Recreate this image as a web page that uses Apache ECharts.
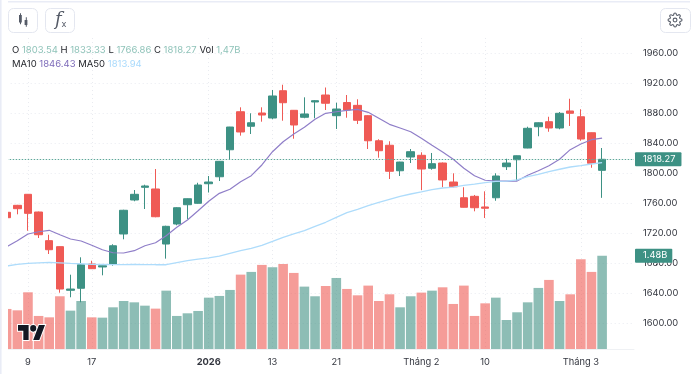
<!DOCTYPE html>
<html><head><meta charset="utf-8">
<style>html,body{margin:0;padding:0;background:#fff}#c{width:700px;height:374px}</style>
<script src="https://cdn.jsdelivr.net/npm/echarts@6/dist/echarts.min.js"></script>
</head><body><div id="c"></div>
<script>
const categories = ['','','9','','','','','','17','','','','','','','','','','','2026','','','','','','13','','','','','','21','','','','','','','','Tháng 2','','','','','','10','','','','','','','','','Tháng 3','','','','',''];
const opens = [1747.6,1756.9,1771.6,1748,1709.8,1701.8,1643.6,1646.3,1678.7,1674.7,1678.3,1718.7,1764,1780.9,1778.7,1705.3,1732,1757.7,1759.6,1785.7,1795,1831,1881.7,1862.3,1880,1873.3,1909.7,1883.6,1874.3,1894.7,1904,1876.4,1894,1890.2,1876.4,1843,1837,1803,1821.3,1823.6,1806.3,1813.3,1788,1767,1768.9,1754.7,1767,1808.4,1817.7,1833.3,1861.7,1868.4,1860,1882.7,1875,1853.7,1803.54];
const highs = [1748,1757.5,1772,1748.5,1717.7,1702,1664.4,1687.6,1683,1677,1705,1751,1777.3,1784.4,1805.3,1729.7,1754.3,1766,1787,1796,1816,1861.5,1887.6,1879.6,1887.6,1910.7,1917.7,1884,1900.9,1897.3,1914,1893.7,1904,1898.3,1877,1845,1842.3,1815,1832,1827.6,1826.7,1814,1799.6,1781,1770.7,1775.6,1799.6,1819,1823.3,1861.7,1867.5,1875,1881.3,1899,1885,1854,1833.33];
const lows = [1740,1744.9,1723,1713.3,1692,1640.4,1634.3,1627.6,1672,1663.6,1676.4,1711.6,1762.3,1752,1741,1685.8,1730.3,1738.7,1759,1774,1789.3,1818.3,1849.8,1852,1868.4,1871.6,1869.7,1845.7,1873,1873,1884,1858.7,1873.7,1865.3,1832,1820.4,1792,1796,1813.3,1777.3,1804.4,1781,1781,1754,1748.9,1740,1763,1804,1789.7,1833,1849,1855,1858.3,1862.7,1843,1807,1766.86];
const closes = [1740.4,1752.4,1746.2,1717.7,1697.7,1645.3,1645.3,1677.7,1672.4,1676.4,1703,1750.3,1771.6,1782.7,1741.7,1728.9,1753.7,1765.7,1784,1788,1815.6,1861.3,1854.7,1867,1877.3,1902.7,1893.7,1864,1878.7,1896.4,1893,1885.3,1884,1870.3,1843,1829.7,1802.3,1814.6,1828.4,1805.3,1812.4,1790.7,1781.7,1754.3,1753.7,1753,1796,1813.3,1823,1859.6,1867,1860,1879.6,1879.6,1845.3,1813,1818.27];
const volumes = [0.635,0.613,0.899,0.524,0.502,0.836,0.608,0.761,0.502,0.497,0.661,0.761,0.74,0.687,0.64,0.925,0.524,0.566,0.603,0.814,0.841,0.936,1.179,1.222,1.333,1.296,1.348,1.206,0.989,0.836,0.999,1.126,0.952,0.851,1.005,0.761,0.867,0.661,0.836,0.894,0.925,0.978,0.714,1.005,0.524,0.724,0.814,0.46,0.582,0.74,0.968,1.095,0.761,0.867,1.422,1.222,1.48];
const ma10 = [1701.7,1709.7,1718.7,1721.7,1723.6,1717.7,1712,1709.3,1703.6,1697.7,1693.7,1693.3,1696.4,1703,1707,1716.4,1727.6,1737.3,1749.7,1762.3,1772.9,1778.3,1788.4,1796.4,1810.7,1828.4,1841.7,1852,1860.9,1871.6,1879.6,1881.7,1883.6,1884.9,1880.9,1872.9,1864.9,1860,1855,1846.3,1836.9,1828,1818.3,1806.3,1796.4,1790.3,1789.3,1789.3,1789.3,1796.9,1803.1,1809.7,1818.3,1831.1,1838.7,1844.4,1846.43];
const ma50 = [1676,1678.3,1679.6,1680.3,1680.9,1680.3,1679.6,1679,1678.3,1678,1677.7,1677.9,1678,1677.9,1677.7,1677.7,1680.4,1683.1,1685.3,1686.7,1689.3,1692.9,1696.4,1699.6,1703.6,1708.9,1714.3,1718.7,1723.1,1728.9,1734.3,1740.9,1747.1,1751.6,1756.4,1760.9,1764.9,1768.9,1772,1774.7,1777.7,1780,1781.3,1783.6,1785.3,1787.3,1788.7,1789.3,1790.7,1795.1,1798.3,1801.7,1805,1808,1809.7,1812,1813.94];
const lastPriceLabel = '1818.27';
const lastVolumeLabel = '1.48B';
const headerRow1 = [['O','1803.54'],['H','1833.33'],['L','1766.86'],['C','1818.27'],['Vol','1,47B']];
const headerRow2 = [['MA10','1846.43','a'],['MA50','1813.94','b']];

const UP='#3d9184', DOWN='#ef5a55', VUP='rgba(65,145,132,0.6)', VDOWN='rgba(238,90,83,0.6)';
const FONT='Inter', FS=9.3;
const GRID='#e9ebf0', TXT='#33363f';
const L=6.7, W=627.3;

const tvPath='M14 22H7V11H0V4h14v18zM28 22h-8l7.5-18h8L28 22zM24 8a4 4 0 1 1-8 0 4 4 0 0 1 8 0z';
const gearPath='M12 15a3 3 0 1 0 0-6 3 3 0 0 0 0 6zM19.4 15a1.65 1.65 0 0 0 .33 1.82l.06.06a2 2 0 0 1 0 2.83 2 2 0 0 1-2.83 0l-.06-.06a1.65 1.65 0 0 0-1.82-.33 1.65 1.65 0 0 0-1 1.51V21a2 2 0 0 1-2 2 2 2 0 0 1-2-2v-.09A1.65 1.65 0 0 0 9 19.4a1.65 1.65 0 0 0-1.82.33l-.06.06a2 2 0 0 1-2.83 0 2 2 0 0 1 0-2.83l.06-.06a1.65 1.65 0 0 0 .33-1.82 1.65 1.65 0 0 0-1.51-1H3a2 2 0 0 1-2-2 2 2 0 0 1 2-2h.09A1.65 1.65 0 0 0 4.6 9a1.65 1.65 0 0 0-.33-1.82l-.06-.06a2 2 0 0 1 0-2.83 2 2 0 0 1 2.83 0l.06.06a1.65 1.65 0 0 0 1.82.33H9a1.65 1.65 0 0 0 1-1.51V3a2 2 0 0 1 2-2 2 2 0 0 1 2 2v.09a1.65 1.65 0 0 0 1 1.51 1.65 1.65 0 0 0 1.82-.33l.06-.06a2 2 0 0 1 2.83 0 2 2 0 0 1 0 2.83l-.06.06a1.65 1.65 0 0 0-.33 1.82V9a1.65 1.65 0 0 0 1.51 1H21a2 2 0 0 1 2 2 2 2 0 0 1-2 2h-.09a1.65 1.65 0 0 0-1.51 1z';
echarts.graphic.registerShape('tvlogo',echarts.graphic.extendPath(tvPath,{}));
echarts.graphic.registerShape('gear',echarts.graphic.extendPath(gearPath,{}));

const chart=echarts.init(document.getElementById('c'),null,{renderer:'canvas'});
const row=(r)=>r.map(p=>`{k|${p[0]} }{${p[2]||'v'}|${p[1]} }`).join('');
const btn=(x,y,w,h)=>({type:'rect',shape:{x:x+.5,y:y+.5,width:w,height:h,r:5},style:{fill:'#fff',stroke:'#e4e7f0',lineWidth:1},z:20,silent:true});
const box=(x,y,w,h,c)=>({type:'rect',shape:{x,y,width:w,height:h},style:{fill:c},z:20,silent:true});
const rt=(c)=>({color:c,fontSize:9.5,fontFamily:FONT,fontWeight:'normal'});
const richH={k:rt('#26282e'),v:rt('#8fc3b9'),a:rt('#7d6bb9'),b:rt('#a9dafc')};

chart.setOption({
  animation:false,
  backgroundColor:'#fff',
  textStyle:{fontFamily:FONT},
  title:[
    {left:12,top:45,padding:0,text:row(headerRow1),textStyle:{rich:richH}},
    {left:12,top:59.5,padding:0,text:row(headerRow2),textStyle:{rich:richH}}
  ],
  grid:[
    {left:L,width:W,top:38,height:285},
    {left:L,width:W,top:38,height:311}
  ],
  xAxis:[
    {type:'category',gridIndex:0,data:categories,boundaryGap:false,show:false},
    {type:'category',gridIndex:1,data:categories,boundaryGap:false,
     axisLine:{show:true,lineStyle:{color:'#eff1f4'}},axisTick:{show:false},
     axisLabel:{interval:(i)=>categories[i]!=='',margin:9,fontSize:FS,color:TXT,fontFamily:FONT,
       formatter:v=>v==='2026'?`{b|${v}}`:v,rich:{b:{fontWeight:'bold',fontSize:FS,color:TXT,fontFamily:FONT}}},
     splitLine:{show:true,interval:(i)=>categories[i]!=='',lineStyle:{color:GRID,type:[1,3]}}}
  ],
  yAxis:[
    {type:'value',gridIndex:0,position:'right',min:1600,max:1980,interval:40,
     axisLine:{show:false},axisTick:{show:false},
     axisLabel:{showMaxLabel:false,margin:9,fontSize:FS,color:TXT,fontFamily:FONT,padding:[2,0,0,0],formatter:v=>v.toFixed(2)},
     splitLine:{show:true,showMaxLine:false,lineStyle:{color:GRID,type:[1,3]}}},
    {type:'value',gridIndex:1,position:'right',min:0,max:4.93,show:false,splitLine:{show:false}}
  ],
  series:[
    {name:'Vol',type:'bar',xAxisIndex:1,yAxisIndex:1,barWidth:9.6,
     data:volumes.map((v,i)=>({value:v,itemStyle:{color:closes[i]>=opens[i]?VUP:VDOWN}})),
     markLine:{silent:true,symbol:'none',animation:false,lineStyle:{color:'rgba(0,0,0,0)'},
       data:[{yAxis:volumes[volumes.length-1]}],
       label:{position:'end',distance:1,formatter:lastVolumeLabel,color:'#fff',fontSize:FS,fontFamily:FONT,
         backgroundColor:UP,padding:[3,5,2,8],borderRadius:1}}},
    {name:'Price',type:'candlestick',xAxisIndex:0,yAxisIndex:0,barWidth:8,
     data:opens.map((o,i)=>[o,closes[i],lows[i],highs[i]]),
     itemStyle:{color:UP,color0:DOWN,borderColor:UP,borderColor0:DOWN,borderWidth:1},
     markLine:{silent:true,symbol:'none',animation:false,
       lineStyle:{color:'#5fa89a',type:[1.5,1.5],width:1},
       data:[{yAxis:closes[closes.length-1]}],
       label:{position:'end',distance:1,formatter:lastPriceLabel,color:'#fff',fontSize:FS,fontFamily:FONT,
         backgroundColor:UP,padding:[3,6,2,8],borderRadius:1}}},
    {name:'MA10',type:'line',xAxisIndex:0,yAxisIndex:0,data:ma10,symbol:'none',lineStyle:{color:'#8f7ec8',width:1.2}},
    {name:'MA50',type:'line',xAxisIndex:0,yAxisIndex:0,data:ma50,symbol:'none',lineStyle:{color:'#aedcfb',width:1.3}}
  ],
  graphic:[
    box(2,36,6,320,'#fff'),
    box(0,0,1.6,374,'#e9ecf6'),
    box(8,1,682,1.6,'#e9ecf6'),
    btn(8,8,29,24),btn(45,8,29,24),btn(660,8,30,24),
    box(20,13.3,1,11,'#555b67'),box(19,15,2.8,7.5,'#555b67'),
    box(25.8,17.3,1,9.5,'#555b67'),box(24.6,20,2.8,5,'#555b67'),
    {type:'text',z:21,silent:true,style:{x:55,y:11,text:'f',font:'italic 300 18px "DejaVu Serif", serif',fill:'#555b67'}},
    {type:'text',z:21,silent:true,style:{x:61.5,y:20,text:'x',font:'9px Inter',fill:'#555b67'}},
    {type:'gear',z:21,silent:true,x:667.4,y:12.4,scaleX:.636,scaleY:.636,style:{fill:'none',stroke:'#555b67',lineWidth:1.7}},
    {type:'tvlogo',z:21,silent:true,x:18,y:321.7,scaleX:.76,scaleY:.83,style:{fill:'#131722',stroke:'#fff',lineWidth:2.5,strokeFirst:true}}
  ]
});
</script></body></html>
